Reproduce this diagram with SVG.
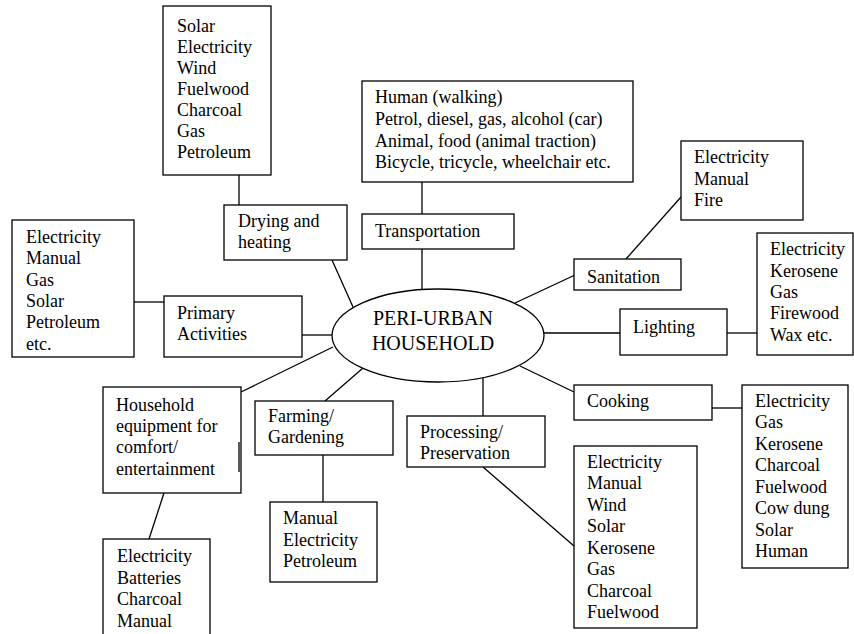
<svg xmlns="http://www.w3.org/2000/svg" width="854" height="634" viewBox="0 0 854 634">
  <style>
    .box { fill: #fff; stroke: #000; stroke-width: 1.3; }
    .hub { fill: #fff; stroke: #000; stroke-width: 1.3; }
    .link { stroke: #000; stroke-width: 1.3; fill: none; }
    .lbl { font-family: 'Liberation Serif', 'Times New Roman', Times, 'DejaVu Serif', serif; font-size: 18px; fill: #000; }
    .hubtext { font-size: 20px; }
  </style>
  <rect width="854" height="634" fill="#fff"/>

  <!-- connectors -->
  <g id="connectors">
    <line class="link" x1="239" y1="175" x2="239" y2="205"/>
    <line class="link" x1="332" y1="260" x2="353" y2="307"/>
    <line class="link" x1="134" y1="302" x2="164" y2="302"/>
    <line class="link" x1="302" y1="335" x2="332" y2="335"/>
    <line class="link" x1="422" y1="182" x2="422" y2="214"/>
    <line class="link" x1="422" y1="249" x2="422" y2="290"/>
    <line class="link" x1="515" y1="303" x2="575" y2="275"/>
    <line class="link" x1="626" y1="259" x2="681" y2="197"/>
    <line class="link" x1="544" y1="333" x2="620" y2="333"/>
    <line class="link" x1="727" y1="333" x2="757" y2="333"/>
    <line class="link" x1="520" y1="366" x2="574" y2="392"/>
    <line class="link" x1="712" y1="408" x2="742" y2="408"/>
    <line class="link" x1="483" y1="378" x2="483" y2="416"/>
    <line class="link" x1="483" y1="467" x2="574" y2="546"/>
    <line class="link" x1="363" y1="368" x2="325" y2="401"/>
    <line class="link" x1="323" y1="455" x2="323" y2="502"/>
    <line class="link" x1="333" y1="347" x2="241" y2="392"/>
    <line class="link" x1="164" y1="493" x2="149" y2="539"/>
  </g>

  <g class="lbl" font-family="Liberation Serif, serif" font-size="18">
  <!-- central hub -->
  <g id="hub">
    <ellipse class="hub" cx="438" cy="335.5" rx="106" ry="46.5"/>
    <text class="hubtext" font-size="20" x="433" y="325" text-anchor="middle">PERI-URBAN</text>
    <text class="hubtext" font-size="20" x="433" y="350" text-anchor="middle">HOUSEHOLD</text>
  </g>

  <!-- drying and heating -->
  <g id="drying-sources">
    <rect class="box" x="163" y="6" width="108" height="169"/>
    <text x="177" y="32">Solar</text>
    <text x="177" y="53">Electricity</text>
    <text x="177" y="74">Wind</text>
    <text x="177" y="95">Fuelwood</text>
    <text x="177" y="116">Charcoal</text>
    <text x="177" y="137">Gas</text>
    <text x="177" y="158">Petroleum</text>
  </g>
  <g id="drying">
    <rect class="box" x="224" y="205" width="123" height="55"/>
    <text x="238" y="227">Drying and</text>
    <text x="238" y="248">heating</text>
  </g>

  <!-- primary activities -->
  <g id="primary-sources">
    <rect class="box" x="12" y="220" width="122" height="137"/>
    <text x="26" y="243">Electricity</text>
    <text x="26" y="264">Manual</text>
    <text x="26" y="286">Gas</text>
    <text x="26" y="307">Solar</text>
    <text x="26" y="328">Petroleum</text>
    <text x="26" y="350">etc.</text>
  </g>
  <g id="primary">
    <rect class="box" x="164" y="296" width="138" height="61"/>
    <text x="177" y="319">Primary</text>
    <text x="177" y="340">Activities</text>
  </g>

  <!-- transportation -->
  <g id="transport-sources">
    <rect class="box" x="362" y="81" width="271" height="101"/>
    <text x="375" y="103">Human (walking)</text>
    <text x="375" y="125">Petrol, diesel, gas, alcohol (car)</text>
    <text x="375" y="147">Animal, food (animal traction)</text>
    <text x="375" y="168">Bicycle, tricycle, wheelchair etc.</text>
  </g>
  <g id="transportation">
    <rect class="box" x="362" y="214" width="152" height="35"/>
    <text x="375" y="237">Transportation</text>
  </g>

  <!-- sanitation -->
  <g id="sanitation-sources">
    <rect class="box" x="681" y="141" width="122" height="79"/>
    <text x="694" y="163">Electricity</text>
    <text x="694" y="185">Manual</text>
    <text x="694" y="206">Fire</text>
  </g>
  <g id="sanitation">
    <rect class="box" x="574" y="259" width="107" height="31"/>
    <text x="587" y="283">Sanitation</text>
  </g>

  <!-- lighting -->
  <g id="lighting">
    <rect class="box" x="620" y="309" width="107" height="46"/>
    <text x="633" y="333">Lighting</text>
  </g>
  <g id="lighting-sources">
    <rect class="box" x="757" y="233" width="96" height="122"/>
    <text x="770" y="255">Electricity</text>
    <text x="770" y="277">Kerosene</text>
    <text x="770" y="298">Gas</text>
    <text x="770" y="319">Firewood</text>
    <text x="770" y="341">Wax etc.</text>
  </g>

  <!-- cooking -->
  <g id="cooking">
    <rect class="box" x="574" y="385" width="138" height="35"/>
    <text x="587" y="407">Cooking</text>
  </g>
  <g id="cooking-sources">
    <rect class="box" x="742" y="385" width="106" height="183"/>
    <text x="755" y="407">Electricity</text>
    <text x="755" y="428">Gas</text>
    <text x="755" y="450">Kerosene</text>
    <text x="755" y="471">Charcoal</text>
    <text x="755" y="493">Fuelwood</text>
    <text x="755" y="514">Cow dung</text>
    <text x="755" y="536">Solar</text>
    <text x="755" y="557">Human</text>
  </g>

  <!-- processing / preservation -->
  <g id="processing">
    <rect class="box" x="407" y="416" width="138" height="51"/>
    <text x="420" y="438">Processing/</text>
    <text x="420" y="459">Preservation</text>
  </g>
  <g id="processing-sources">
    <rect class="box" x="574" y="446" width="123" height="182"/>
    <text x="587" y="468">Electricity</text>
    <text x="587" y="489">Manual</text>
    <text x="587" y="511">Wind</text>
    <text x="587" y="532">Solar</text>
    <text x="587" y="554">Kerosene</text>
    <text x="587" y="575">Gas</text>
    <text x="587" y="597">Charcoal</text>
    <text x="587" y="618">Fuelwood</text>
  </g>

  <!-- farming / gardening -->
  <g id="farming">
    <rect class="box" x="255" y="401" width="138" height="54"/>
    <text x="268" y="422">Farming/</text>
    <text x="268" y="443">Gardening</text>
  </g>
  <g id="farming-sources">
    <rect class="box" x="270" y="502" width="107" height="80"/>
    <text x="283" y="524">Manual</text>
    <text x="283" y="546">Electricity</text>
    <text x="283" y="567">Petroleum</text>
  </g>

  <!-- household equipment -->
  <g id="household-equipment">
    <rect class="box" x="103" y="387" width="138" height="106"/>
    <line class="link" x1="239" y1="442" x2="239" y2="472"/>
    <text x="116" y="411">Household</text>
    <text x="116" y="432">equipment for</text>
    <text x="116" y="453">comfort/</text>
    <text x="116" y="475">entertainment</text>
  </g>
  <g id="household-sources">
    <rect class="box" x="103" y="539" width="107" height="100"/>
    <text x="117" y="562">Electricity</text>
    <text x="117" y="584">Batteries</text>
    <text x="117" y="605">Charcoal</text>
    <text x="117" y="627">Manual</text>
  </g>
  </g>
</svg>
